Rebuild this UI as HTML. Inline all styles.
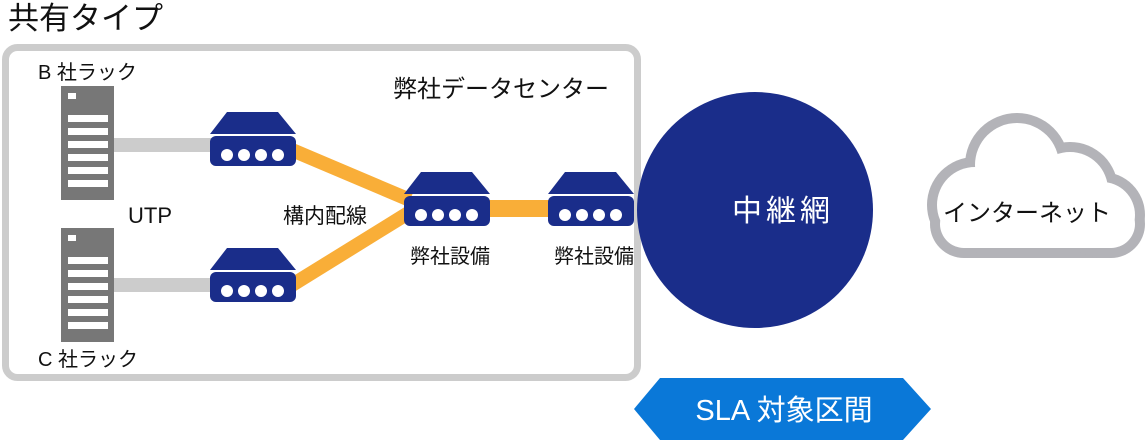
<!DOCTYPE html>
<html><head><meta charset="utf-8"><style>
html,body{margin:0;padding:0;background:#fff;width:1148px;height:442px;overflow:hidden}
svg text{font-family:"Liberation Sans","Noto Sans CJK JP",sans-serif}
</style></head><body>
<svg width="1148" height="442" viewBox="0 0 1148 442" xmlns="http://www.w3.org/2000/svg">
<defs>
<g id="rt">
<polygon points="17,0 68,0 86,22 0,22" fill="#1a2d8a"/>
<rect x="0" y="24" width="86" height="30" rx="6" fill="#1a2d8a"/>
<circle cx="17" cy="43" r="6" fill="#fff"/><circle cx="34" cy="43" r="6" fill="#fff"/>
<circle cx="51" cy="43" r="6" fill="#fff"/><circle cx="68" cy="43" r="6" fill="#fff"/>
</g>
<g id="srv">
<rect x="0" y="0" width="53" height="114" fill="#777"/>
<rect x="7" y="7" width="8" height="6" fill="#fff"/>
<rect x="7" y="29" width="40" height="7" fill="#fff"/>
<rect x="7" y="42" width="40" height="7" fill="#fff"/>
<rect x="7" y="55" width="40" height="7" fill="#fff"/>
<rect x="7" y="68" width="40" height="7" fill="#fff"/>
<rect x="7" y="81" width="40" height="7" fill="#fff"/>
<rect x="7" y="94" width="40" height="7" fill="#fff"/>
</g>
</defs>
<text x="8" y="29" font-size="31" fill="#111">共有タイプ</text>
<rect x="5.5" y="47.5" width="632" height="330" rx="12" fill="none" stroke="#ccc" stroke-width="7"/>
<text x="38" y="79" font-size="20" fill="#111">B 社ラック</text>
<text x="38" y="366" font-size="20" fill="#111">C 社ラック</text>
<text x="393" y="97" font-size="24" fill="#111">弊社データセンター</text>
<rect x="114" y="138" width="100" height="14" fill="#ccc"/>
<rect x="114" y="278" width="100" height="14" fill="#ccc"/>
<use href="#srv" x="61" y="86"/>
<use href="#srv" x="61" y="228"/>
<line x1="292" y1="150" x2="410" y2="200" stroke="#f9ae38" stroke-width="14"/>
<line x1="292" y1="285" x2="410" y2="212" stroke="#f9ae38" stroke-width="14"/>
<rect x="480" y="200" width="80" height="17" fill="#f9ae38"/>
<use href="#rt" x="210" y="112"/>
<use href="#rt" x="210" y="248"/>
<use href="#rt" x="404" y="172"/>
<use href="#rt" x="548" y="172"/>
<text x="128" y="223" font-size="22" fill="#111">UTP</text>
<text x="283" y="223" font-size="21" fill="#111">構内配線</text>
<text x="410" y="263" font-size="20" fill="#111">弊社設備</text>
<text x="554" y="263" font-size="20" fill="#111">弊社設備</text>
<circle cx="755" cy="210" r="118" fill="#1a2d8a"/>
<text x="783" y="221" font-size="30" fill="#fff" text-anchor="middle" letter-spacing="4">中継網</text>
<g fill="#b3b3b8">
<rect x="930" y="190" width="215" height="68" rx="34"/>
<circle cx="975" cy="205" r="48"/><circle cx="1017" cy="165" r="52"/>
<circle cx="1070" cy="190" r="48"/><circle cx="1102" cy="215" r="43"/>
</g>
<g fill="#fff">
<rect x="940" y="200" width="195" height="48" rx="24"/>
<circle cx="975" cy="205" r="38"/><circle cx="1017" cy="165" r="42"/>
<circle cx="1070" cy="190" r="38"/><circle cx="1102" cy="215" r="33"/>
</g>
<text x="943" y="221" font-size="24" fill="#111">インターネット</text>
<polygon points="634,409 660,378 903,378 931,409 903,440 660,440" fill="#0a78d8"/>
<text x="784" y="420" font-size="29" fill="#fff" text-anchor="middle">SLA 対象区間</text>
</svg>
</body></html>
